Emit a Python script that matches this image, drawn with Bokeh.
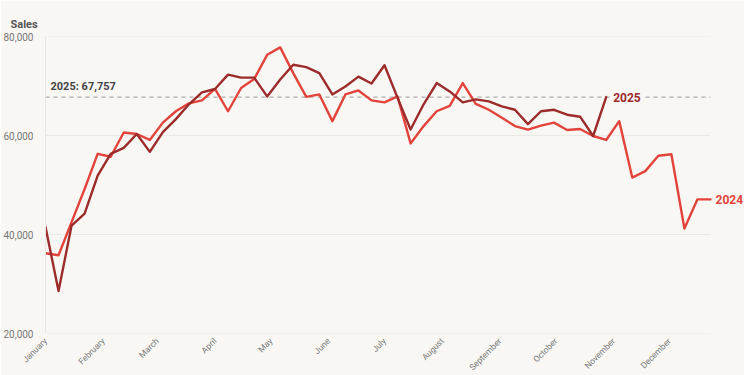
import math
import pandas as pd
from bokeh.plotting import figure
from bokeh.models import (Range1d, FixedTicker, DatetimeTickFormatter,
                          NumeralTickFormatter, Label, Title)
from bokeh.embed import file_html
from bokeh.resources import INLINE

# ---- data (weekly sales) ----
week_starts = pd.date_range("2024-01-01", periods=52, freq="7D")
month_starts = pd.date_range("2024-01-01", periods=12, freq="MS")

sales_2024 = [36200, 35800, 42500, 49200, 56300, 55700, 60600, 60300, 59100, 62600,
              64900, 66500, 67100, 69400, 64900, 69600, 71400, 76300, 77800, 72600,
              67800, 68300, 62900, 68300, 69100, 67100, 66700, 67900, 58400, 61900,
              64900, 66000, 70600, 66400, 65200, 63600, 61900, 61200, 62000, 62600,
              61100, 61300, 59900, 59100, 62900, 51500, 52800, 55900, 56200, 41200,
              47100, 47100]

sales_2025 = [41500, 28600, 41800, 44200, 51900, 56300, 57500, 60300, 56700, 60700,
              63300, 66300, 68700, 69400, 72300, 71700, 71700, 67900, 71300, 74300,
              73800, 72600, 68300, 69900, 71900, 70500, 74200, 67600, 61200, 66300,
              70600, 68900, 66700, 67300, 66900, 65900, 65200, 62300, 64900, 65200,
              64200, 63800, 59900, 67757]

y_ticks = [20000, 40000, 60000, 80000]
series_names = ["2024", "2025"]

# ---- style ----
BG = "#f8f7f4"
GRID = "#ebe9e4"
C2024 = "#e2443c"
C2025 = "#9c2b2c"
FONT = "Roboto"

DATA_W = 665   # pixels covered by the weekly data
LABEL_W = 34   # extra room on the right for the end label
first, last = week_starts[0], week_starts[-1]
x_end = last + (last - first) * LABEL_W / DATA_W

p = figure(frame_width=DATA_W + LABEL_W, frame_height=297, x_axis_type="datetime",
           output_backend="svg", toolbar_location=None,
           x_range=Range1d(first, x_end),
           y_range=Range1d(y_ticks[0], y_ticks[-1]),
           min_border_left=35, min_border_right=0, min_border_top=30,
           min_border_bottom=0)

p.background_fill_color = BG
p.border_fill_color = BG
p.outline_line_color = None

# outer spacer title, then the "Sales" title next to the frame
p.title.text = " "
p.title.text_font_size = "7px"
p.title.standoff = 0
p.add_layout(Title(text="Sales", align="left", offset=-35, standoff=12,
                   text_font=FONT, text_font_size="11px", text_font_style="bold",
                   text_color="#555555"), "above")

# axes
p.yaxis.ticker = FixedTicker(ticks=y_ticks)
p.yaxis.formatter = NumeralTickFormatter(format="0,0")
p.yaxis.major_tick_line_color = None
p.yaxis.minor_tick_line_color = None
p.yaxis.axis_line_color = "#e8e6e1"
p.yaxis.major_label_text_font = FONT
p.yaxis.major_label_text_font_size = "10px"
p.yaxis.major_label_text_color = "#777777"
p.yaxis.major_label_standoff = 6

p.xaxis.ticker = FixedTicker(ticks=[t.timestamp() * 1000 for t in month_starts])
p.xaxis.formatter = DatetimeTickFormatter(months="%B", days="%B", years="%B")
p.xaxis.major_label_orientation = math.pi / 4
p.xaxis.major_tick_line_color = None
p.xaxis.minor_tick_line_color = None
p.xaxis.axis_line_color = None
p.xaxis.major_label_text_font = FONT
p.xaxis.major_label_text_font_size = "8.5px"
p.xaxis.major_label_text_color = "#777777"
p.xaxis.major_label_standoff = 0

p.xgrid.grid_line_color = None
p.ygrid.grid_line_color = None

# horizontal grid lines over the data span only
n = len(y_ticks)
p.segment(x0=[first] * n, y0=y_ticks, x1=[last] * n, y1=y_ticks,
          line_color=GRID, line_width=1)

# reference line at the latest 2025 value
last_2025 = sales_2025[-1]
p.segment(x0=[first], y0=[last_2025], x1=[last], y1=[last_2025],
          line_color="#9a9a9a", line_width=1, line_dash="4 4")

# lines
p.line(list(week_starts), sales_2024, line_color=C2024, line_width=2.4,
       line_join="round", line_cap="round")
p.line(list(week_starts[:len(sales_2025)]), sales_2025, line_color=C2025,
       line_width=2.4, line_join="round", line_cap="round")

# labels
p.add_layout(Label(x=first, y=last_2025, x_offset=5, y_offset=4,
                   text=f"{series_names[1]}: {last_2025:,}", text_font=FONT,
                   text_font_size="11px", text_font_style="bold",
                   text_color="#444444", text_baseline="bottom"))
p.add_layout(Label(x=week_starts[len(sales_2025) - 1], y=last_2025, x_offset=5,
                   text=series_names[1], text_font=FONT, text_font_size="12px",
                   text_font_style="bold", text_color=C2025, text_baseline="middle",
                   background_fill_color=BG, padding=2))
p.add_layout(Label(x=last, y=sales_2024[-1], x_offset=5,
                   text=series_names[0], text_font=FONT, text_font_size="12px",
                   text_font_style="bold", text_color=C2024, text_baseline="middle"))

open("out.html", "w").write(file_html(p, INLINE))
